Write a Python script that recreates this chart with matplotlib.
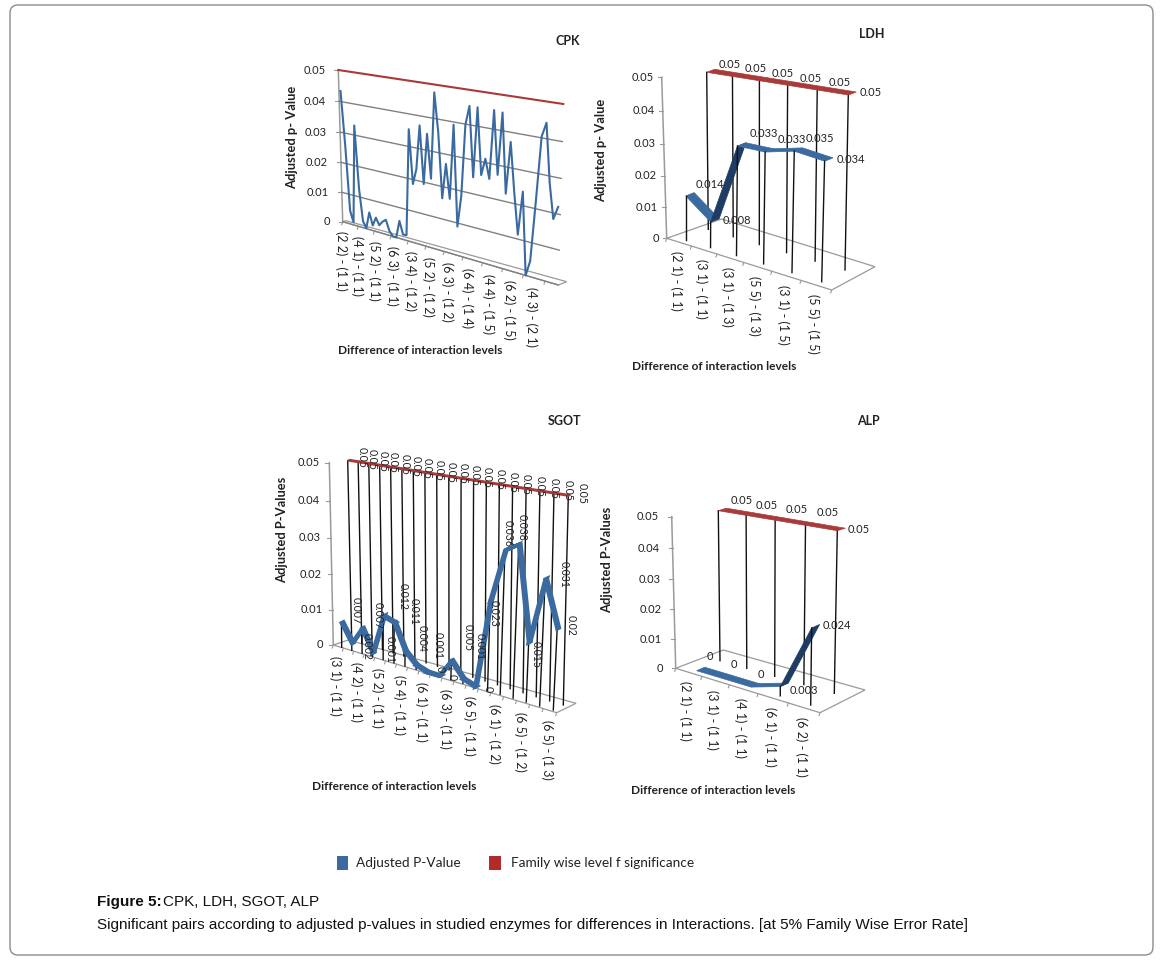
import numpy as np
import matplotlib
matplotlib.use('Agg')
import matplotlib.pyplot as plt
from matplotlib.patches import FancyBboxPatch, Rectangle, Polygon
from matplotlib.transforms import Transform

# values
cpk_values = [.0434, .0261, .0045, .0009, .0331, .0127, .0022, .0002, .0057, .0017,
              .0046, .0024, .0039, .0048, .0015, 0, 0, .0057, .0016, .0017,
              .0353, .0186, .0235, .0371, .0194, .0350, .0216, .0477, .0361, .0164,
              .0271, .0168, .0392, .0089, .0186, .0398, .0454, .0249, .0454, .0261,
              .0311, .0255, .0454, .0272, .0451, .0223, .0373, .0233, .0113, .0240,
              0, .0046, .0219, .0404, .0443, .0282, .0183, .0220]
cpk_labels = ['(2 2) - (1 1)', '(4 1) - (1 1)', '(5 2) - (1 1)', '(6 3) - (1 1)',
              '(3 4) - (1 2)', '(5 2) - (1 2)', '(6 3) - (1 2)', '(6 4) - (1 4)',
              '(4 4) - (1 5)', '(6 2) - (1 5)', '(4 3) - (2 1)']

ldh_values = [.014, .008, .033, .033, .035, .034]
ldh_labels = ['(2 1) - (1 1)', '(3 1) - (1 1)', '(3 1) - (1 3)',
              '(5 5) - (1 3)', '(3 1) - (1 5)', '(5 5) - (1 5)']

sgot_values = [.007, .002, .007, .001, .012, .011, .004, .001, 0, 0,
               .005, .001, 0, .023, .036, .038, .015, .031, .02]
sgot_labels = ['(3 1) - (1 1)', '(4 2) - (1 1)', '(5 2) - (1 1)', '(5 4) - (1 1)',
               '(6 1) - (1 1)', '(6 3) - (1 1)', '(6 5) - (1 1)', '(6 1) - (1 2)',
               '(6 5) - (1 2)', '(6 5) - (1 3)']

alp_values = [0, 0, 0, .003, .024]
alp_labels = ['(2 1) - (1 1)', '(3 1) - (1 1)', '(4 1) - (1 1)',
              '(6 1) - (1 1)', '(6 2) - (1 1)']

family_level = 0.05
y_ticks = [0, .01, .02, .03, .04, .05]

BLUE = '#3a6a9f'
DARK_BLUE = '#1f3c63'
RED = '#a83a3a'
GRAY = '#9a9a9a'
TEXT = '#222222'
FONT = 'Lato'


class Wall(Transform):
    # maps (category, value) onto a slanted plane of the 3D looking excel charts
    input_dims = 2
    output_dims = 2
    is_separable = False

    def __init__(self, bl, tl, br, tr, c0, c1, vmax=0.05):
        Transform.__init__(self)
        self.c0, self.c1, self.vmax = c0, c1, vmax
        src = [(0, 0), (0, 1), (1, 0), (1, 1)]
        A, b = [], []
        for (u, v), (x, y) in zip(src, [bl, tl, br, tr]):
            A.append([u, v, 1, 0, 0, 0, -u * x, -v * x])
            A.append([0, 0, 0, u, v, 1, -u * y, -v * y])
            b += [x, y]
        self.H = np.append(np.linalg.solve(np.array(A, float), np.array(b, float)), 1).reshape(3, 3)

    def transform_non_affine(self, xy):
        xy = np.asarray(xy, float)
        u = (xy[:, 0] - self.c0) / (self.c1 - self.c0)
        v = xy[:, 1] / self.vmax
        p = self.H @ np.vstack([u, v, np.ones(len(u))])
        return (p[:2] / p[2]).T


fig = plt.figure(figsize=(11.6, 9.61), dpi=100)
ax = fig.add_axes([0, 0, 1, 1])
ax.set_xlim(0, 1160)
ax.set_ylim(961, 0)
ax.set_autoscale_on(False)
ax.axis('off')


def ribbon(wall, values, color, depth, dark=None, edge=0.5):
    xs = wall.transform(np.column_stack([np.arange(len(values)), values]))
    for a, b in zip(xs[:-1], xs[1:]):
        c = color
        if dark is not None and abs(b[1] - a[1]) > 1.2 * abs(b[0] - a[0]):
            c = dark
        ax.add_patch(Polygon([a, b, b + depth, a + depth], closed=True, fc=c, ec=c, lw=edge, zorder=4))
    return xs


def drops(wall, values, zorder=3):
    for i, v in enumerate(values):
        ax.plot([i, i], [0, v], color='#111111', lw=1.0, transform=wall + ax.transData, zorder=zorder)


def labels(pts, texts, dx, dy, rotation=0, size=8, color=TEXT):
    for p, t, ox, oy in zip(pts, texts, dx, dy):
        ax.text(p[0] + ox, p[1] + oy, t, ha='center', va='center', rotation=rotation,
                fontsize=size, family=FONT, color=color, zorder=6)


def axis_frame(front, floor, names, step, title, title_xy, ylabel, ylabel_xy, xlabel_xy, tick_every=1, tick_gap=8):
    n0 = front.c0
    t = front + ax.transData
    ax.plot([n0, n0], [0, family_level], color=GRAY, lw=1.1, transform=t, zorder=1)
    ax.add_patch(Polygon(floor, closed=True, fill=False, ec=GRAY, lw=0.9, zorder=1))
    for v in y_ticks:
        p = front.transform(np.array([[n0, v]]))[0]
        ax.plot([p[0] - 4, p[0]], [p[1], p[1]], color=GRAY, lw=0.8, zorder=1)
        ax.text(p[0] - tick_gap, p[1], str(v) if v else '0', ha='right', va='center', fontsize=8,
                family=FONT, color=TEXT)
    edge = np.arange(n0, front.c1 + 0.5, tick_every)
    for p in front.transform(np.column_stack([edge, np.zeros(len(edge))])):
        ax.plot([p[0], p[0] - 1], [p[1], p[1] + 3], color=GRAY, lw=0.8, zorder=1)
    pos = np.arange(len(names)) * step
    for p, name in zip(front.transform(np.column_stack([pos, np.zeros(len(pos))])), names):
        ax.text(p[0] - 3, p[1] + 9, name, rotation=-90, ha='center', va='top', fontsize=9,
                family=FONT, color=TEXT)
    ax.text(*title_xy, title, ha='center', va='center', fontsize=9, fontweight='bold', family=FONT, color=TEXT)
    ax.text(*ylabel_xy, ylabel, rotation=90, ha='center', va='center', fontsize=9.3, fontweight='bold',
            family=FONT, color=TEXT)
    ax.text(*xlabel_xy, 'Difference of interaction levels', ha='center', va='center', fontsize=8.6,
            fontweight='bold', family=FONT, color=TEXT)


# CPK - plain lines on the wall with gridlines
n = len(cpk_values)
cpk = Wall((342.7, 221.7), (338.3, 70), (558.3, 285), (563.3, 104), -0.5, n - 0.5)
axis_frame(cpk, [(342.7, 221.7), (558.3, 285), (566.7, 281.7), (346, 220.7)], cpk_labels, 5.2,
           'CPK', (568, 41), 'Adjusted p- Value', (292, 137), (420, 351), tick_every=5, tick_gap=13)
for v in y_ticks[:-1]:
    ax.plot([-0.5, n - 0.5], [v, v], color='#808080', lw=1.0, transform=cpk + ax.transData, zorder=2)
ax.plot([-0.5, n - 0.5], [family_level] * 2, color=RED, lw=1.5, transform=cpk + ax.transData, zorder=3)
ax.plot(range(n), cpk_values, color=BLUE, lw=1.5, transform=cpk + ax.transData, zorder=4)

# LDH
n = len(ldh_values)
front = Wall((666.7, 238.3), (661.7, 77.3), (831.7, 290), (835, 108), -0.5, n - 0.5)
blue = Wall((685.7, 240), (685.7, 79.3), (821.7, 281.7), (826, 102.7), 0, n - 1)
red = Wall((708.3, 229.3), (706.7, 72.3), (845, 270), (848.3, 95), 0, n - 1)
axis_frame(front, [(666.7, 238.3), (831.7, 290), (875, 266.7), (721.7, 219)], ldh_labels, 1,
           'LDH', (872, 34), 'Adjusted p- Value', (601, 150), (714, 366))
family = [family_level] * n
drops(red, family)
pts = ribbon(red, family, RED, np.array([8, -3]))
labels(pts, family, [23, 23, 23, 23, 22, 22], [-8, -8, -7, -7, -8, -2])
drops(blue, ldh_values, zorder=5)
pts = ribbon(blue, ldh_values, BLUE, np.array([8.5, -3.3]), dark=DARK_BLUE)
labels(pts, ldh_values, [24, 26, 26, 27, 26, 26], [-11, -1, -13, -13, -13, -2])

# SGOT
n = len(sgot_values)
front = Wall((333.3, 645), (329.3, 462.7), (556.7, 712.7), (565, 501.7), -0.5, n - 0.5)
blue = Wall((341.7, 647.3), (340, 466.7), (553.3, 710), (563.3, 500), 0, n - 1)
red = Wall((351.7, 640), (347.7, 460.7), (563.3, 705), (568.3, 496), 0, n - 1)
axis_frame(front, [(333.3, 645), (556.7, 712.7), (576, 703.3), (348.3, 640)], sgot_labels, 2,
           'SGOT', (565, 421), 'Adjusted P-Values', (282, 530), (394, 786), tick_gap=10)
family = [family_level] * n
drops(red, family)
pts = ribbon(red, family, RED, np.array([2, -1]), edge=1.2)
labels(pts, family, [14] * n, [-3] * n, rotation=-90, size=7.6)
drops(blue, sgot_values)
pts = ribbon(blue, sgot_values, BLUE, np.array([2, -1]), edge=2.8)
sgot_dx = [15, 15, 16, 18, 20, 20, 17, 22, 13, 13, 17, 17, 13, 4, 3, 3, 7, 19, 14]
sgot_dy = [-13, 3, -13, -3, -20, -12, -13, -20, -4, 1, -23, -33, 2, 13, -17, -17, 12, -5, -3]
labels(pts, sgot_values, sgot_dx, sgot_dy, rotation=-90, size=7.6)

# ALP
n = len(alp_values)
front = Wall((675.7, 668.3), (671.7, 516.7), (820, 712.7), (823.3, 543.3), -0.5, n - 0.5)
blue = Wall((696.7, 670.7), (695, 520.7), (810.7, 705), (812.7, 541.7), 0, n - 1)
red = Wall((720, 660.7), (718.3, 510.7), (834.3, 693.3), (837.3, 530.7), 0, n - 1)
axis_frame(front, [(675.7, 668.3), (820, 712.7), (865, 690), (723.3, 650)], alp_labels, 1,
           'ALP', (868, 421), 'Adjusted P-Values', (607, 560), (713, 791), tick_gap=13)
family = [family_level] * n
drops(red, family)
pts = ribbon(red, family, RED, np.array([8, -2.5]))
labels(pts, family, [23, 21, 22, 22, 21], [-10, -10, -11, -13, -1])
drops(blue, alp_values, zorder=5)
pts = ribbon(blue, alp_values, BLUE, np.array([8, -3.5]), dark=DARK_BLUE)
labels(pts, alp_values, [13, 11, 10, 24, 25], [-14, -14, -13, 4, -2])

# frame, legend, caption
ax.add_patch(FancyBboxPatch((14, 9), 1135, 942, boxstyle='round,pad=4,rounding_size=8',
                            fc='none', ec='#8c8c8c', lw=1.0))
ax.add_patch(Rectangle((337, 856), 11, 14, fc=BLUE, ec='none'))
ax.text(356, 863, 'Adjusted P-Value', va='center', fontsize=9.8, family=FONT, color=TEXT)
ax.add_patch(Rectangle((489, 856), 12, 14, fc='#b22a2a', ec='none'))
ax.text(511, 863, 'Family wise level f significance', va='center', fontsize=9.8, family=FONT, color=TEXT)
ax.text(97, 902, 'Figure 5:', va='center', fontsize=11, fontweight='bold', family='Liberation Sans', color='#111111')
ax.text(163, 902, 'CPK, LDH, SGOT, ALP', va='center', fontsize=11, family='Liberation Sans', color='#111111')
ax.text(97, 925, 'Significant pairs according to adjusted p-values in studied enzymes for differences in Interactions. '
        '[at 5% Family Wise Error Rate]', va='center', fontsize=11, family='Liberation Sans', color='#111111')

fig.savefig('out.png', dpi=100)
